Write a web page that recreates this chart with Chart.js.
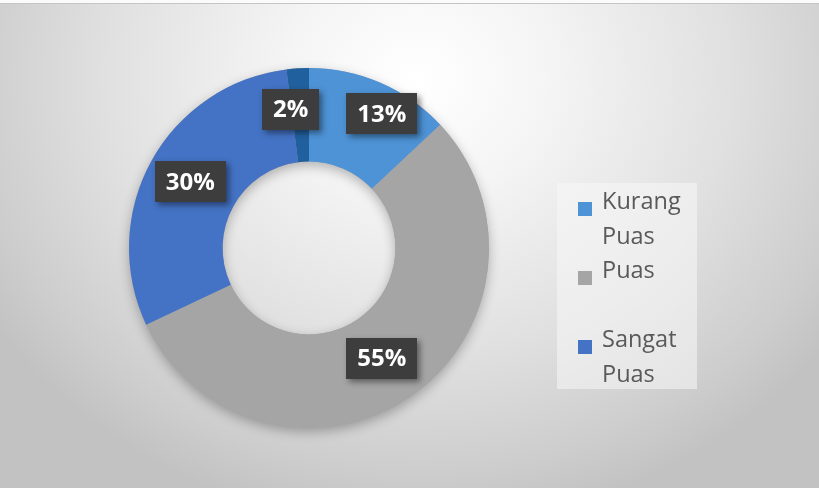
<!DOCTYPE html>
<html>
<head>
<meta charset="utf-8">
<script src="https://cdn.jsdelivr.net/npm/chart.js@4"></script>
<style>
  html,body{margin:0;padding:0;}
  body{width:819px;height:488px;overflow:hidden;position:relative;
    background:radial-gradient(ellipse 62% 92% at 51% 16%, #ffffff 0%, #f5f5f5 25%, #e0e0e0 62%, #cdcdcd 88%, #c2c2c2 100%);}
  .topline{position:absolute;left:0;top:0;width:819px;height:3px;background:#fbfbfb;border-bottom:1px solid #c4c4c4;}
  #c{position:absolute;left:0;top:0;}
  #legend{position:absolute;left:557px;top:183px;width:140px;height:206px;
    background:rgba(248,248,248,0.55);font-family:"Open Sans",sans-serif;font-size:23.5px;color:#595959;}
  .item{position:relative;height:69px;line-height:35px;padding-left:45px;padding-right:4px;}
  .item i{position:absolute;left:21px;top:19px;width:14px;height:14px;}
</style>
</head>
<body>
<div class="topline"></div>
<canvas id="c" width="819" height="488"></canvas>
<div id="legend"></div>
<script>
const labels = ['Kurang Puas','Puas','Sangat Puas','Tidak Puas'];
const values = [13,55,30,2];
const colors = ['#4E93D6','#A5A5A5','#4472C4','#21609E'];
const legendCount = 3; // last entry is cut off in the original legend

const total = values.reduce((a,b)=>a+b,0);
const pctLabels = values.map(v => Math.round(v/total*100)+'%');

// small nudges Excel applied to keep the top labels apart
const labelShift = [[20,-12],[-2,0],[-2,-2],[-10,-6]];

const ringShadow = {
  id:'ringShadow',
  beforeDatasetsDraw(chart){
    const a = chart.getDatasetMeta(0).data[0]; if(!a) return;
    const ctx = chart.ctx;
    ctx.save();
    ctx.shadowColor='rgba(0,0,0,0.28)'; ctx.shadowBlur=12; ctx.shadowOffsetY=4;
    ctx.beginPath();
    ctx.arc(a.x,a.y,a.outerRadius,0,Math.PI*2);
    ctx.arc(a.x,a.y,a.innerRadius,0,Math.PI*2,true);
    ctx.fillStyle='#a5a5a5'; ctx.fill();
    ctx.restore();
  }
};

const boxLabels = {
  id:'boxLabels',
  afterDatasetsDraw(chart){
    const ctx = chart.ctx;
    const meta = chart.getDatasetMeta(0);
    ctx.save();
    ctx.font = 'bold 24px "Open Sans", sans-serif';
    ctx.textAlign='center'; ctx.textBaseline='middle';
    meta.data.forEach((arc,i)=>{
      const p = arc.getCenterPoint();
      const x = p.x + labelShift[i][0], y = p.y + labelShift[i][1];
      const t = pctLabels[i];
      const w = ctx.measureText(t).width + 22, h = 41;
      ctx.save();
      ctx.shadowColor='rgba(0,0,0,0.45)'; ctx.shadowBlur=6; ctx.shadowOffsetX=3; ctx.shadowOffsetY=3;
      ctx.fillStyle='#3d3d3d';
      ctx.fillRect(Math.round(x-w/2), Math.round(y-h/2), Math.round(w), h);
      ctx.restore();
      ctx.fillStyle='#ffffff';
      ctx.fillText(t, x, y+1);
    });
    ctx.restore();
  }
};

new Chart(document.getElementById('c'), {
  type:'doughnut',
  data:{ labels: labels, datasets:[{ data: values, backgroundColor: colors, borderWidth:0 }] },
  options:{
    responsive:false, animation:false,
    cutout:'48%',
    layout:{ padding:{ left:129, right:330, top:68, bottom:60 } },
    plugins:{ legend:{ display:false }, tooltip:{ enabled:false } }
  },
  plugins:[ringShadow, boxLabels]
});

document.getElementById('legend').innerHTML = labels.slice(0,legendCount).map((l,i)=>
  `<div class="item"><i style="background:${colors[i]}"></i>${l}</div>`).join('');
</script>
</body>
</html>
